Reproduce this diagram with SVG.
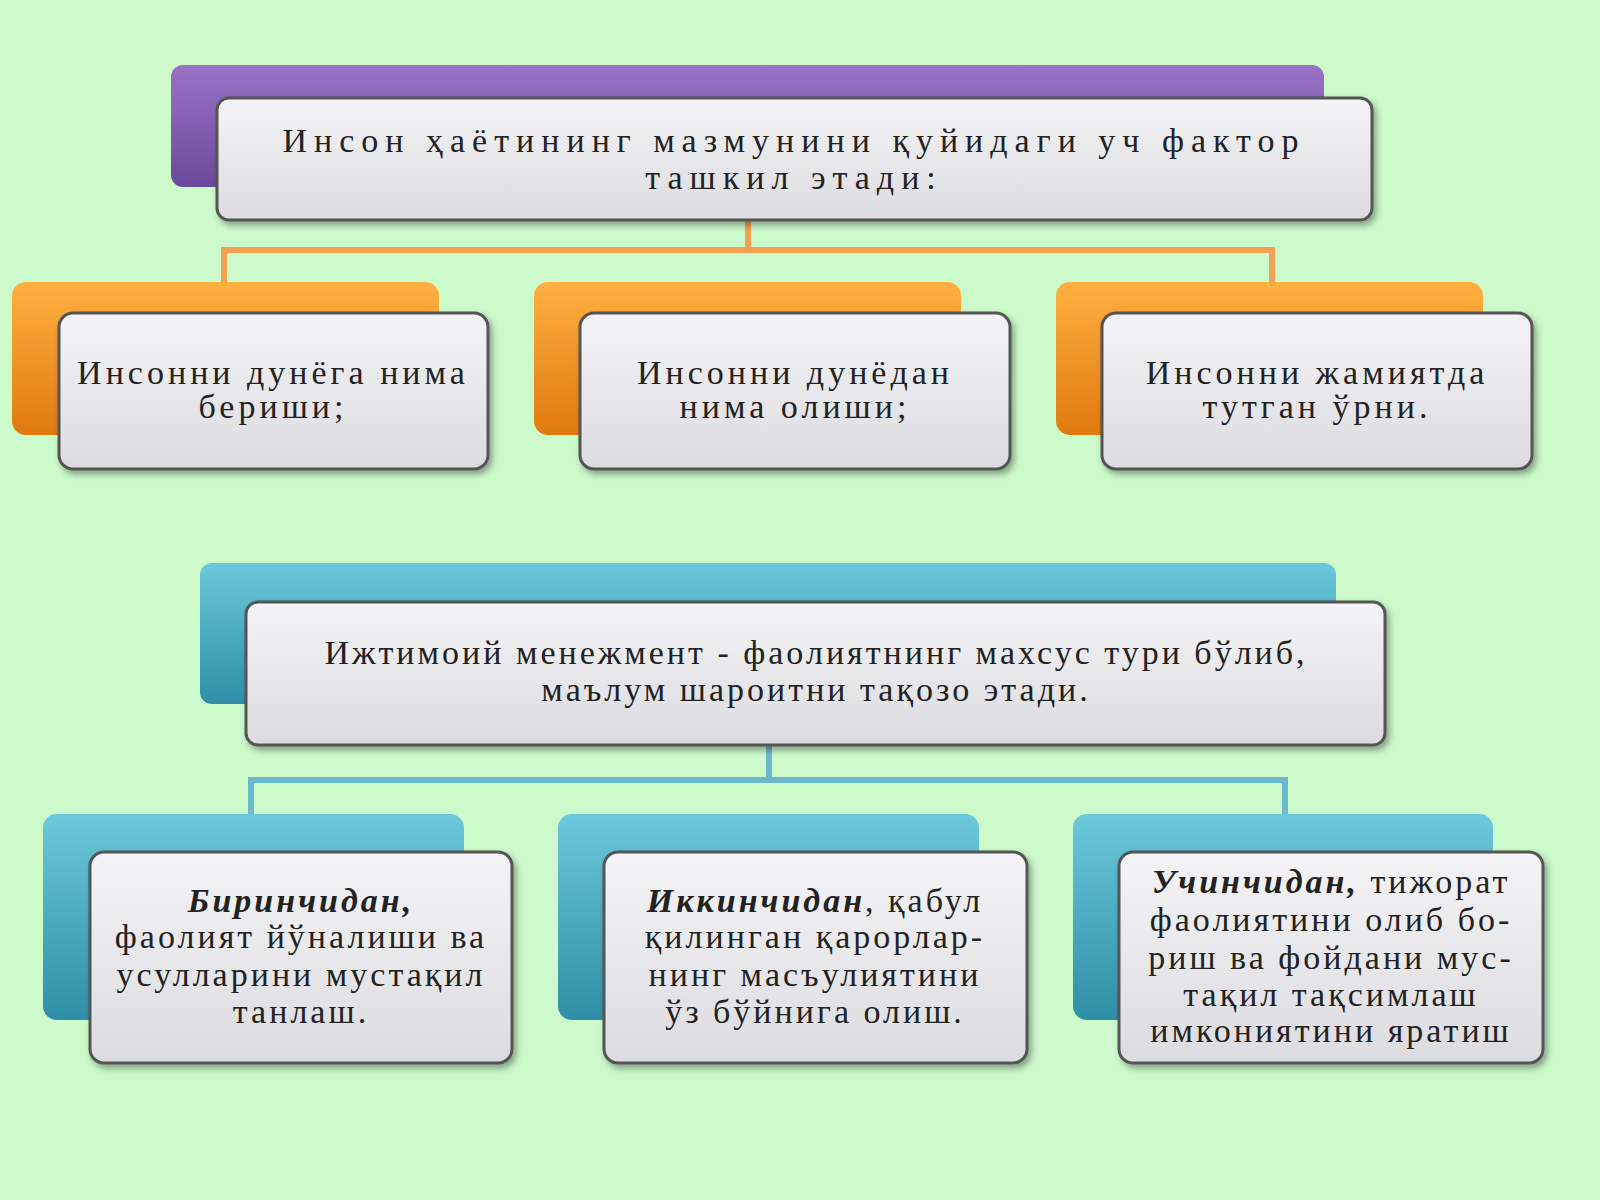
<svg xmlns="http://www.w3.org/2000/svg" width="1600" height="1200" viewBox="0 0 1600 1200">
<defs>
<linearGradient id="wg" x1="0" y1="0" x2="0" y2="1"><stop offset="0" stop-color="#f4f4f6"/><stop offset="1" stop-color="#dcdce0"/></linearGradient>
<linearGradient id="pg" x1="0" y1="0" x2="0" y2="1"><stop offset="0" stop-color="#9a72c8"/><stop offset="1" stop-color="#6a4a9a"/></linearGradient>
<linearGradient id="og" x1="0" y1="0" x2="0" y2="1"><stop offset="0" stop-color="#ffb040"/><stop offset="1" stop-color="#e07a10"/></linearGradient>
<linearGradient id="bg" x1="0" y1="0" x2="0" y2="1"><stop offset="0" stop-color="#6cc8dc"/><stop offset="1" stop-color="#2e8fa6"/></linearGradient>
<filter id="sh"><feDropShadow dx="3" dy="4" stdDeviation="3" flood-opacity="0.35"/></filter>
</defs>
<style>
.f{fill:url(#wg);stroke:#555;stroke-width:3;filter:url(#sh)}
.p{fill:url(#pg)}.o{fill:url(#og)}.b{fill:url(#bg)}
text{font-family:"Liberation Serif",serif;font-size:34px;fill:#222;text-anchor:middle;letter-spacing:3px}
.t{letter-spacing:7px}.m{letter-spacing:4px}
.bi{font-weight:bold;font-style:italic}
</style>
<rect width="1600" height="1200" fill="#ccfacb"/>
<g id="connectors" fill="none" stroke-width="6">
<path d="M748 220V250M224 283V250H1272V283" stroke="#f4a050"/>
<path d="M769 745V780M251 816V780H1285V816" stroke="#6ab8cc"/>
</g>
<g id="n0"><rect class="p" x="171" y="65" width="1153" height="122" rx="12"/><rect class="f" x="217" y="98" width="1155" height="122" rx="12"/>
<text class="t" x="794" y="152">Инсон ҳаётининг мазмунини қуйидаги уч фактор</text><text class="t" x="794" y="189">ташкил этади:</text></g>
<g id="n1"><rect class="o" x="12" y="282" width="427" height="153" rx="14"/><rect class="f" x="59" y="313" width="429" height="156" rx="14"/>
<text class="m" x="273" y="384">Инсонни дунёга нима</text><text class="m" x="273" y="418">бериши;</text></g>
<g id="n2"><rect class="o" x="534" y="282" width="427" height="153" rx="14"/><rect class="f" x="580" y="313" width="430" height="156" rx="14"/>
<text class="m" x="795" y="384">Инсонни дунёдан</text><text class="m" x="795" y="418">нима олиши;</text></g>
<g id="n3"><rect class="o" x="1056" y="282" width="427" height="153" rx="14"/><rect class="f" x="1102" y="313" width="430" height="156" rx="14"/>
<text class="m" x="1317" y="384">Инсонни жамиятда</text><text class="m" x="1317" y="418">тутган ўрни.</text></g>
<g id="n4"><rect class="b" x="200" y="563" width="1136" height="141" rx="12"/><rect class="f" x="246" y="602" width="1139" height="143" rx="12"/>
<text x="816" y="664">Ижтимоий менежмент - фаолиятнинг махсус тури бўлиб,</text><text x="816" y="701">маълум шароитни тақозо этади.</text></g>
<g id="n5"><rect class="b" x="43" y="814" width="421" height="206" rx="14"/><rect class="f" x="90" y="852" width="422" height="211" rx="14"/>
<text x="301" y="912"><tspan class="bi">Биринчидан,</tspan></text><text x="301" y="948">фаолият йўналиши ва</text><text x="301" y="986">усулларини мустақил</text><text x="301" y="1023">танлаш.</text></g>
<g id="n6"><rect class="b" x="558" y="814" width="421" height="206" rx="14"/><rect class="f" x="604" y="852" width="423" height="211" rx="14"/>
<text x="815" y="912"><tspan class="bi">Иккинчидан</tspan>, қабул</text><text x="815" y="948">қилинган қарорлар-</text><text x="815" y="986">нинг масъулиятини</text><text x="815" y="1023">ўз бўйнига олиш.</text></g>
<g id="n7"><rect class="b" x="1073" y="814" width="420" height="206" rx="14"/><rect class="f" x="1119" y="852" width="424" height="211" rx="14"/>
<text x="1331" y="893"><tspan class="bi">Учинчидан,</tspan> тижорат</text><text x="1331" y="931">фаолиятини олиб бо-</text><text x="1331" y="969">риш ва фойдани мус-</text><text x="1331" y="1006">тақил тақсимлаш</text><text x="1331" y="1042">имкониятини яратиш</text></g>
</svg>
